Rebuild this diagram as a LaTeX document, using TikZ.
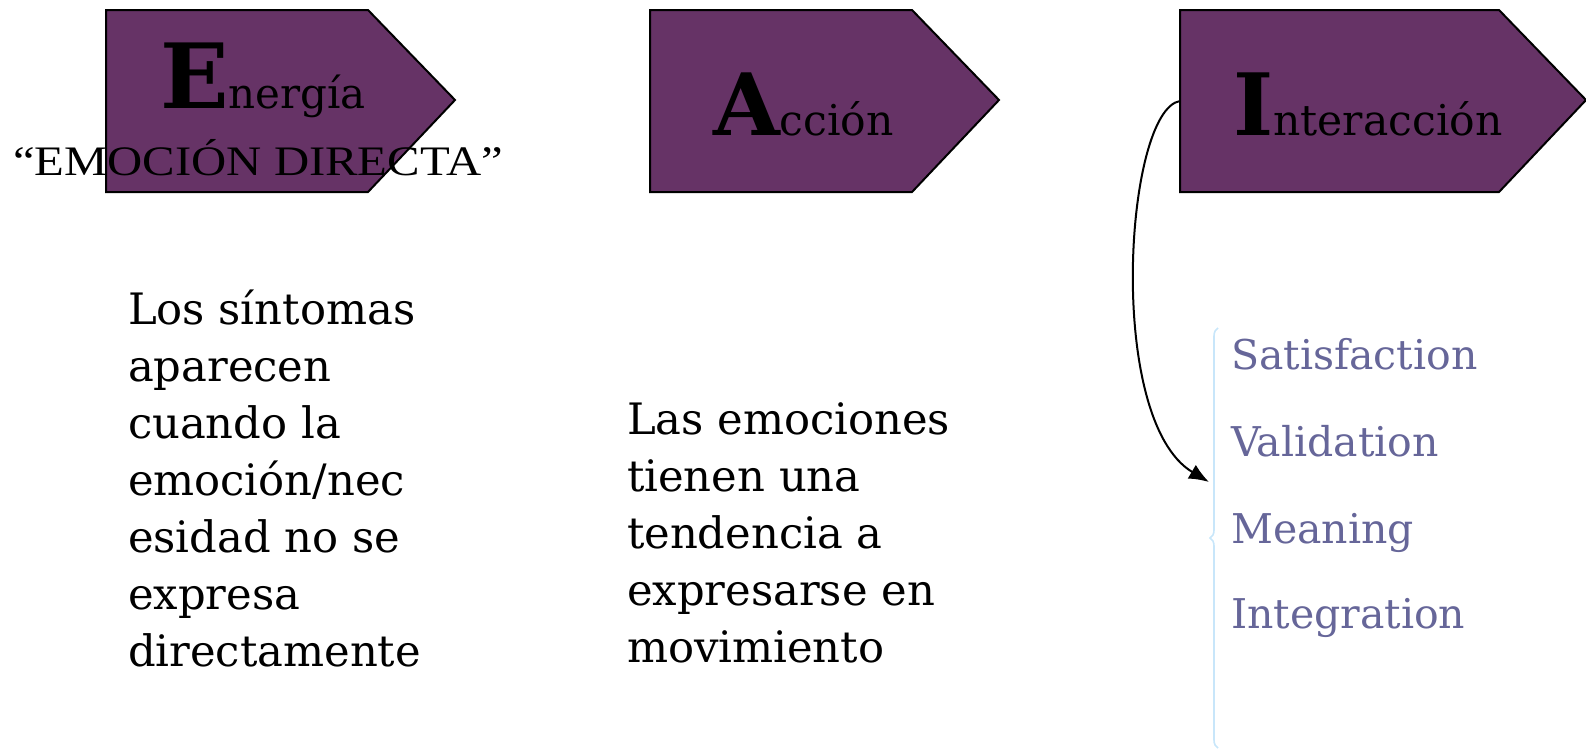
\documentclass[tikz,border=0pt]{standalone}
\usepackage{fontspec}
\setmainfont{DejaVu Serif}
\newfontfamily\timesfont[FakeStretch=1.16]{Liberation Serif}
\usepackage{tikz}
\usetikzlibrary{decorations.pathreplacing}
\usetikzlibrary{arrows.meta}
\definecolor{myPurple}{RGB}{102,51,102}
\definecolor{myLila}{RGB}{102,102,153}
\definecolor{myBrace}{RGB}{200,230,250}

\begin{document}
\begin{tikzpicture}[%
	x=1pt,y=-1pt,
	every node/.style={inner sep=0pt,outer sep=0pt},
	flecha/.style={draw=black,fill=myPurple,line width=2pt},
	texto/.style={anchor=north west,align=left,font=\fontsize{43.3}{57}\selectfont},
	lista/.style={anchor=base west,text=myLila,font=\fontsize{41}{41}\selectfont},
	]
	\useasboundingbox (0,0) rectangle (1586,750);
	
	% draw the three arrows
	\draw[flecha] (106,10) -- (368,10) -- (455,100) -- (368,192) -- (106,192) -- cycle;
	\draw[flecha] (650,10) -- (912,10) -- (999,100) -- (912,192) -- (650,192) -- cycle;
	\draw[flecha] (1180,10) -- (1499,10) -- (1586,100) -- (1499,192) -- (1180,192) -- cycle;
	
	% place arrow titles
	\node[anchor=base west] (energia) at (160,108)
		{{\bfseries\fontsize{90}{90}\selectfont E}{\fontsize{42}{42}\selectfont nergía}};
	\node[anchor=base west] (directa) at (13,175)
		{\timesfont\fontsize{42}{42}\selectfont “EMOCIÓN DIRECTA”};
	\node[anchor=base west] (accion) at (713,135)
		{{\bfseries\fontsize{86}{86}\selectfont A}{\fontsize{42.5}{42}\selectfont cción}};
	\node[anchor=base west] (interaccion) at (1233,135)
		{{\bfseries\fontsize{86}{86}\selectfont I}{\fontsize{42.5}{42}\selectfont nteracción}};
	
	% texts below
	\node[texto] (sintomas) at (128,290) {Los síntomas\\aparecen\\cuando la\\emoción/nec\\esidad no se\\expresa\\directamente};
	\node[texto] (emociones) at (627,403) {Las emociones\\tienen una\\tendencia a\\expresarse en\\movimiento};
	
	% list with brace
	\node[lista] (sat) at (1231,369) {Satisfaction};
	\node[lista] (val) at (1231,456) {Validation};
	\node[lista] (mea) at (1231,543) {Meaning};
	\node[lista] (int) at (1231,628) {Integration};
	\coordinate (llaveabajo) at (1218,748);
	\coordinate (llavearriba) at (1218,328);
	\coordinate (punta) at (1209,482);
	\coordinate (salida) at (1180,101);
	\draw[myBrace,line width=1.6pt,decorate,decoration={brace,amplitude=8pt,aspect=0.5}] (llaveabajo) -- (llavearriba);
	
	% curved arrow
	\draw[line width=2pt,-{Latex[length=20pt,width=16pt]}] (salida) .. controls (1125,110) and (1105,420) .. (punta);
\end{tikzpicture}
\end{document}
